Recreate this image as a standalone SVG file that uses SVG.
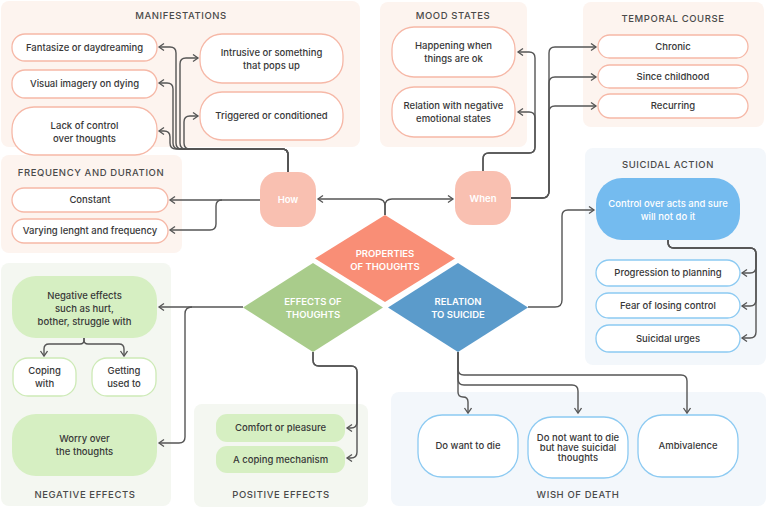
<svg xmlns="http://www.w3.org/2000/svg" width="767" height="508" viewBox="0 0 767 508">
<defs>
<marker id="a" markerWidth="10" markerHeight="10" refX="6" refY="4" orient="auto" markerUnits="userSpaceOnUse"><path d="M1,0.5 L6,4 L1,7.5" fill="none" stroke="#555" stroke-width="1.3"/></marker>
<style>
.pp{fill:#fdf4ef}.pg{fill:#f4f7f1}.pb{fill:#f3f7fb}
.np{fill:#fff;stroke:#f6b8a7;stroke-width:1.3}
.nb{fill:#fff;stroke:#8ccaf2;stroke-width:1.3}
.ng{fill:#fff;stroke:#cdeab6;stroke-width:1.3}
.gf{fill:#d6efc2}
text{font-family:Inter,"Noto Sans",sans-serif;text-anchor:middle}
.t{font-size:9.5px;fill:#383838;font-weight:500}
.h{font-size:9.5px;fill:#4a4a4a;letter-spacing:0.6px;font-weight:500}
.w{font-size:9.5px;fill:#fff;font-weight:600}
.c{fill:none;stroke:#555;stroke-width:1.4;marker-end:url(#a)}
</style>
</defs>
<rect width="767" height="508" fill="#fff"/>
<g id="panels">
<rect class="pp" x="1" y="1" width="359" height="146" rx="8"/>
<rect class="pp" x="1" y="155" width="181" height="98" rx="8"/>
<rect class="pp" x="380" y="2" width="147" height="145" rx="8"/>
<rect class="pp" x="583" y="2" width="181" height="125" rx="8"/>
<rect class="pb" x="585" y="148" width="181" height="217" rx="8"/>
<rect class="pg" x="1" y="263" width="170" height="243" rx="8"/>
<rect class="pg" x="194" y="404" width="174" height="103" rx="8"/>
<rect class="pb" x="391" y="392" width="375" height="114" rx="8"/>
<text class="h" x="181" y="19">MANIFESTATIONS</text>
<text class="h" x="91" y="175.5">FREQUENCY AND DURATION</text>
<text class="h" x="453" y="19">MOOD STATES</text>
<text class="h" x="673" y="21.5">TEMPORAL COURSE</text>
<text class="h" x="668" y="168">SUICIDAL ACTION</text>
<text class="h" x="85" y="498">NEGATIVE EFFECTS</text>
<text class="h" x="281" y="498">POSITIVE EFFECTS</text>
<text class="h" x="578" y="498">WISH OF DEATH</text>
</g>
<g id="connectors">
<path class="c" d="M288,172 V155 Q288,149 282,149 H176 Q170,149 170,143 V137 Q170,131 164,131 H159"/>
<path class="c" d="M288,172 V155 Q288,149 282,149 H179 Q173,149 173,143 V89 Q173,83 167,83 H159"/>
<path class="c" d="M288,172 V155 Q288,149 282,149 H182 Q176,149 176,143 V53 Q176,47 170,47 H159"/>
<path class="c" d="M288,172 V155 Q288,149 282,149 H186 Q180,149 180,143 V64 Q180,58 186,58 H198"/>
<path class="c" d="M288,172 V155 Q288,149 282,149 H190 Q184,149 184,143 V122 Q184,116 190,116 H198"/>
<path class="c" d="M260,200 H170"/>
<path class="c" d="M222,200 Q216,200 216,206 V224 Q216,230 210,230 H170"/>
<path class="c" d="M385,215 V206 Q385,199 378,199 H318"/>
<path class="c" d="M385,215 V206 Q385,199 392,199 H453"/>
<path class="c" d="M483,171 V159 Q483,153 489,153 H529 Q535,153 535,147 V58 Q535,52 529,52 H518"/>
<path class="c" d="M483,171 V159 Q483,153 489,153 H529 Q535,153 535,147 V118 Q535,112 529,112 H518"/>
<path class="c" d="M511,198 H542 Q549,198 549,191 V53 Q549,47 555,47 H596"/>
<path class="c" d="M511,198 H542 Q549,198 549,191 V83 Q549,77 555,77 H596"/>
<path class="c" d="M511,198 H542 Q549,198 549,191 V112 Q549,106 555,106 H596"/>
<path class="c" d="M528,307 H555 Q562,307 562,300 V216 Q562,210 568,210 H594"/>
<path class="c" d="M668,240 V242 Q668,248 674,248 H750 Q756,248 756,254 V267 Q756,273 750,273 H742"/>
<path class="c" d="M668,240 V242 Q668,248 674,248 H750 Q756,248 756,254 V300 Q756,306 750,306 H742"/>
<path class="c" d="M668,240 V242 Q668,248 674,248 H750 Q756,248 756,254 V332 Q756,338 750,338 H742"/>
<path class="c" d="M243,307 H159"/>
<path class="c" d="M192,307 Q185,307 185,314 V437 Q185,443 179,443 H159"/>
<path class="c" d="M84,338 V340 Q84,344 80,344 H49 Q44,344 44,349 V356"/>
<path class="c" d="M84,338 V340 Q84,344 88,344 H119 Q124,344 124,349 V356"/>
<path class="c" d="M313,352 V360 Q313,366 319,366 H351 Q357,366 357,372 V422 Q357,428 351,428 H347"/>
<path class="c" d="M313,352 V360 Q313,366 319,366 H351 Q357,366 357,372 V452 Q357,458 351,458 H347"/>
<path class="c" d="M458,352 V392 Q458,397 463,397 Q468,397 468,402 V413"/>
<path class="c" d="M458,352 V379 Q458,385 464,385 H572 Q578,385 578,391 V413"/>
<path class="c" d="M458,352 V369 Q458,375 464,375 H681 Q687,375 687,381 V413"/>
</g>
<g id="properties"><path d="M385,215 L455,258.5 L385,302 L315,258.5 Z" fill="#f98e76"/><text class="w" x="385" y="256.5">PROPERTIES</text><text class="w" x="385" y="269.5">OF THOUGHTS</text></g>
<g id="effects"><path d="M313,263 L383,307.5 L313,352 L243,307.5 Z" fill="#a9cc8b"/><text class="w" x="313" y="304.5">EFFECTS OF</text><text class="w" x="313" y="317.5">THOUGHTS</text></g>
<g id="relation"><path d="M458,263 L528,307.5 L458,352 L388,307.5 Z" fill="#5b9bcb"/><text class="w" x="458" y="304.5">RELATION</text><text class="w" x="458" y="317.5">TO SUICIDE</text></g>
<g id="how"><rect x="260" y="172" width="56" height="55" rx="18" fill="#f9c0b1"/><text class="w" x="288" y="203">How</text></g>
<g id="when"><rect x="455" y="171" width="56" height="54" rx="18" fill="#f9c0b1"/><text class="w" x="483" y="201.5">When</text></g>
<g id="fantasize"><rect class="np" x="12" y="34" width="145" height="27" rx="13"/><text class="t" x="84.5" y="51">Fantasize or daydreaming</text></g>
<g id="visual"><rect class="np" x="12" y="70" width="145" height="28" rx="13"/><text class="t" x="84.5" y="87.3">Visual imagery on dying</text></g>
<g id="lack"><rect class="np" x="12" y="107" width="145" height="48" rx="22"/><text class="t" x="84.5" y="128.5">Lack of control</text><text class="t" x="84.5" y="141.5">over thoughts</text></g>
<g id="intrusive"><rect class="np" x="200" y="34" width="143" height="49" rx="22"/><text class="t" x="271.5" y="56">Intrusive or something</text><text class="t" x="271.5" y="69">that pops up</text></g>
<g id="triggered"><rect class="np" x="200" y="92" width="143" height="48" rx="22"/><text class="t" x="271.5" y="119.3">Triggered or conditioned</text></g>
<g id="constant"><rect class="np" x="12" y="188" width="156" height="24" rx="12"/><text class="t" x="90" y="203.3">Constant</text></g>
<g id="varying"><rect class="np" x="12" y="219" width="156" height="24" rx="12"/><text class="t" x="90" y="234.3">Varying lenght and frequency</text></g>
<g id="happening"><rect class="np" x="392" y="27" width="123" height="50" rx="22"/><text class="t" x="453.5" y="48.5">Happening when</text><text class="t" x="453.5" y="61.5">things are ok</text></g>
<g id="negstates"><rect class="np" x="392" y="87" width="123" height="50" rx="22"/><text class="t" x="453.5" y="109">Relation with negative</text><text class="t" x="453.5" y="122">emotional states</text></g>
<g id="chronic"><rect class="np" x="598" y="35" width="150" height="23" rx="11.5"/><text class="t" x="673" y="50">Chronic</text></g>
<g id="childhood"><rect class="np" x="598" y="65" width="150" height="23" rx="11.5"/><text class="t" x="673" y="80">Since childhood</text></g>
<g id="recurring"><rect class="np" x="598" y="94" width="150" height="24" rx="12"/><text class="t" x="673" y="109.3">Recurring</text></g>
<g id="control"><rect x="596" y="178" width="144" height="62" rx="26" fill="#74bbef"/><text class="t" x="668" y="206.5" style="fill:#fff">Control over acts and sure</text><text class="t" x="668" y="220" style="fill:#fff">will not do it</text></g>
<g id="progression"><rect class="nb" x="596" y="260" width="144" height="26" rx="13"/><text class="t" x="668" y="276.3">Progression to planning</text></g>
<g id="fear"><rect class="nb" x="596" y="293" width="144" height="25" rx="12.5"/><text class="t" x="668" y="309">Fear of losing control</text></g>
<g id="urges"><rect class="nb" x="596" y="325" width="144" height="27" rx="13"/><text class="t" x="668" y="341.5">Suicidal urges</text></g>
<g id="negeffects"><rect class="gf" x="12" y="276" width="145" height="62" rx="24"/><text class="t" x="84.5" y="298.5">Negative effects</text><text class="t" x="84.5" y="311.5">such as hurt,</text><text class="t" x="84.5" y="324.5">bother, struggle with</text></g>
<g id="coping"><rect class="ng" x="13" y="358" width="63" height="38" rx="15"/><text class="t" x="44.5" y="374">Coping</text><text class="t" x="44.5" y="387">with</text></g>
<g id="getting"><rect class="ng" x="92" y="358" width="64" height="38" rx="15"/><text class="t" x="124" y="374">Getting</text><text class="t" x="124" y="387">used to</text></g>
<g id="worry"><rect class="gf" x="12" y="414" width="145" height="62" rx="24"/><text class="t" x="84.5" y="442">Worry over</text><text class="t" x="84.5" y="455">the thoughts</text></g>
<g id="comfort"><rect class="gf" x="216" y="414" width="129" height="28" rx="11"/><text class="t" x="280.5" y="431.3">Comfort or pleasure</text></g>
<g id="copingmech"><rect class="gf" x="216" y="446" width="129" height="27" rx="11"/><text class="t" x="280.5" y="462.8">A coping mechanism</text></g>
<g id="dowant"><rect class="nb" x="418" y="415" width="100" height="62" rx="24"/><text class="t" x="468" y="449.3">Do want to die</text></g>
<g id="donotwant"><rect class="nb" x="528" y="417" width="100" height="61" rx="24"/><text class="t" x="578" y="441.3">Do not want to die</text><text class="t" x="578" y="451.3">but have suicidal</text><text class="t" x="578" y="461.3">thoughts</text></g>
<g id="ambivalence"><rect class="nb" x="638" y="415" width="100" height="62" rx="24"/><text class="t" x="688" y="449.3">Ambivalence</text></g>
</svg>
